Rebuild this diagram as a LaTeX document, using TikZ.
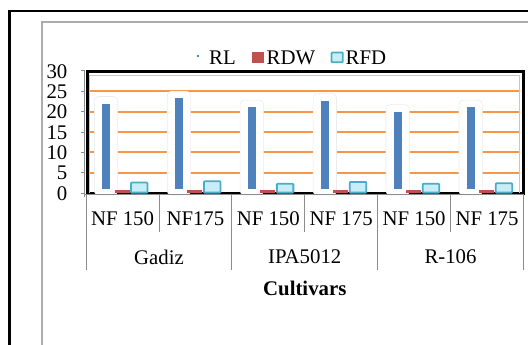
\documentclass[tikz,border=0pt]{standalone}
\usepackage{fontspec}
\setmainfont{Liberation Serif}
\definecolor{rlblue}{HTML}{4F81BD}
\definecolor{rdwred}{HTML}{C0504D}
\definecolor{rfdline}{HTML}{4BACC6}
\definecolor{rfdfill}{HTML}{C9EDF7}
\definecolor{gridorange}{HTML}{F79646}
\definecolor{axisgray}{HTML}{8C8C8C}
\begin{document}
\begin{tikzpicture}[x=1bp,y=-1bp,
  font=\fontsize{20.8bp}{24bp}\selectfont,
  lbl/.style={inner sep=0pt},
  ylbl/.style={inner sep=0pt, anchor=east},
  glow/.style={fill=white, draw=gray!15, line width=0.6bp, rounded corners=4bp},
  rfdbar/.style={draw=rfdline, fill=rfdfill, line width=1.8bp, rounded corners=0.8bp},
  grid/.style={gridorange, line width=2bp},
  axisline/.style={axisgray, line width=1bp}]
\useasboundingbox (0,0) rectangle (528,344);
\clip (0,0) rectangle (528,344);

% outer borders
\draw[line width=2.5bp] (9.5,400) -- (9.5,11) -- (600,11);
\draw[gray!65, line width=1.2bp] (42,400) -- (42,22) -- (600,22);

% horizontal grid
\foreach \v in {5,10,...,25}
  \draw[grid] (88,{193-\v*4.067}) -- (520,{193-\v*4.067});

% plot frame
\draw[line width=3bp] (87,193) -- (87,71) -- (523,71) -- (523,193) -- cycle;
\draw[gray!45, line width=0.8bp] (89.5,193) -- (89.5,75) -- (519,75) -- (519,193);

% bars: category index / RL / RDW / RFD
\foreach \i/\rl/\rdw/\rfd in {0/22.0/0.65/2.8, 1/23.3/0.7/3.1, 2/21.1/0.65/2.5,
                               3/22.7/0.7/2.95, 4/20.0/0.65/2.5, 5/21.1/0.65/2.6}{
  \pgfmathsetmacro\L{86+\i*72.93}
  \pgfmathsetmacro\ytop{193-\rl*4.067}
  \filldraw[glow] (\L+8.3,195) rectangle (\L+31.7,\ytop-7);
  \fill[rlblue] (\L+16.2,189) rectangle (\L+24.4,\ytop);
  \fill[rdwred] (\L+28.5,193) rectangle (\L+43.5,{193-\rdw*4.067});
  \filldraw[rfdbar] (\L+45,192.6) rectangle (\L+61.5,{193-\rfd*4.067+0.9});
}

% axes
\draw[axisline] (84.5,71) -- (84.5,197);
\draw[axisline] (84.5,194) -- (524,194);
\foreach \v in {0,5,...,30}
  \draw[axisline] (80.5,{193-\v*4.067}) -- (84.5,{193-\v*4.067});

% y labels
\foreach \v in {0,5,...,30}
  \node[ylbl] (y\v) at (67.5,{193.5-\v*4.067}) {\v};

% category dividers
\foreach \x in {159,304.7,450.5}
  \draw[axisline] (\x,194) -- (\x,232);
\foreach \x in {86,231.6,377.8,523.6}
  \draw[axisline] (\x,194) -- (\x,270);

% category labels
\node[lbl] (c0) at (122.5,219) {NF 150};
\node[lbl] (c1) at (195.4,219) {NF175};
\node[lbl] (c2) at (268.3,219) {NF 150};
\node[lbl] (c3) at (341.2,219) {NF 175};
\node[lbl] (c4) at (414.1,219) {NF 150};
\node[lbl] (c5) at (487.0,219) {NF 175};

\node[lbl] (g0) at (159,257) {Gadiz};
\node[lbl] (g1) at (304.7,257) {IPA5012};
\node[lbl] (g2) at (450.5,257) {R-106};

\node[lbl] (xtitle) at (304.8,288) {\bfseries Cultivars};

% legend
\fill[rlblue] (197.3,54.7) rectangle (199.3,56.7);
\node[lbl, anchor=west] (lgRL) at (209,57.5) {RL};
\fill[rdwred] (252,51.5) rectangle (264,63);
\node[lbl, anchor=west] (lgRDW) at (266.5,57.5) {RDW};
\filldraw[rfdbar] (331.5,52.5) rectangle (342.8,62.3);
\node[lbl, anchor=west] (lgRFD) at (345.5,57.5) {RFD};
\end{tikzpicture}
\end{document}
